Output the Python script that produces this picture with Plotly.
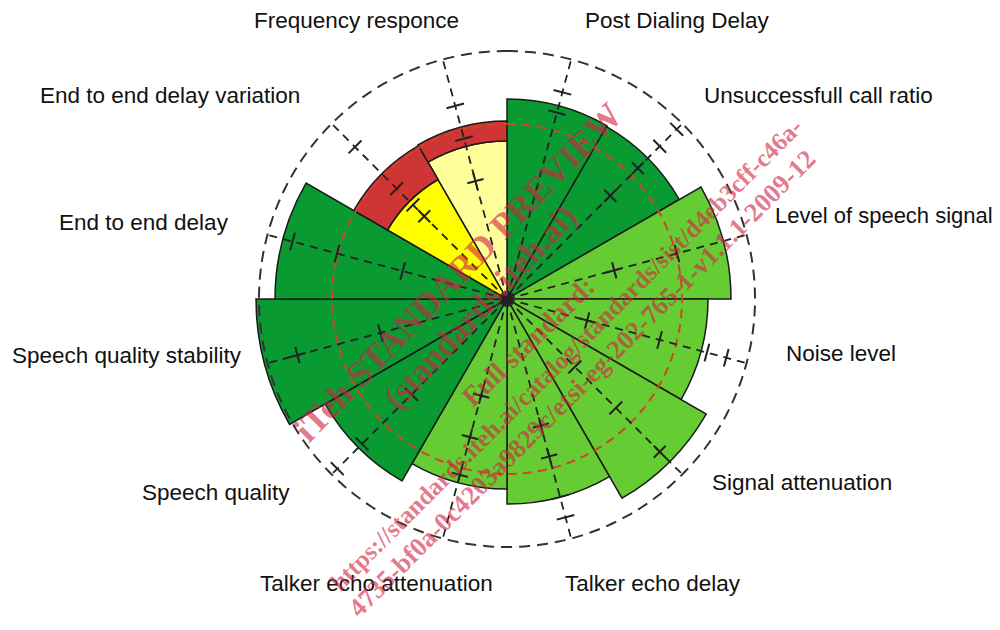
import numpy as np
import plotly.graph_objects as go

# ---------------- data ----------------
categories = ["Post Dialing Delay", "Unsuccessfull call ratio", "Level of speech signal",
              "Noise level", "Signal attenuation", "Talker echo delay",
              "Talker echo attenuation", "Speech quality", "Speech quality stability",
              "End to end delay", "End to end delay variation", "Frequency responce"]
theta_deg = [15, 45, 75, 105, 135, 165, 195, 225, 255, 285, 315, 345]
inner_r = [200, 199, 224, 201, 230, 205, 190, 210, 251, 232, 138, 158]
inner_color = ["#0A9A32", "#0A9A32", "#66CC33", "#66CC33", "#66CC33", "#66CC33",
               "#66CC33", "#0A9A32", "#0A9A32", "#0A9A32", "#FFFF00", "#FFFF99"]
outer_theta = [315, 345]
outer_r = [39, 20]
axis_end = [248] * 12
cross_r = [[], [146, 185], [111], [83], [216], [131, 163], [100, 143, 182],
           [], [217], [], [117], [122]]
bar_r = [[193, 214], [216, 240], [176], [158, 207, 227], [96, 154], [205, 226],
         [], [135, 205, 240], [131], [108, 176, 222], [133, 156, 215], [166, 200]]
outer_circle_r = 248
limit_circle_r = 175

label_pos = [(583, 20), (702, 95), (773, 215), (784, 353), (710, 482), (563, 583),
             (258, 583), (140, 492), (10, 355), (57, 222), (38, 95), (252, 20)]
label_size = [22.5, 22.5, 22, 22.5, 22.5, 22.5, 22.5, 22.5, 22.5, 22.5, 22.5, 22.5]

watermark = ["iTeh STANDARD PREVIEW", "(standards.iteh.ai)", "Full standard:",
             "https://standards.iteh.ai/catalog/standards/sist/d4eb3cff-c46a-",
             "4735-bf0a-0c4203a9829c/etsi-eg-202-765-1-v1.1.1-2009-12"]
wm_pos = [(458, 272, 36, -46), (480, 307, 34, -47), (528, 341, 28, -44),
          (566, 354, 25, -45), (582, 383, 26.5, -45)]

# page is offset by the browser's default 8px body margin
OFF = 8
W, H = 1000 - OFF, 630 - OFF
CX, CY, RMAX = 507, 299, 255


def px(x, y):
    return (x - OFF) / W, 1 - (y - OFF) / H


fig = go.Figure()

ring = np.linspace(0, 360, 361)
fig.add_trace(go.Scatterpolar(r=[outer_circle_r] * len(ring), theta=ring, mode="lines",
                              line=dict(color="#333333", width=2, dash="11px,7px"),
                              hoverinfo="skip"))

fig.add_trace(go.Barpolar(r=inner_r, theta=theta_deg, width=[30] * 12,
                          marker=dict(color=inner_color, line=dict(color="#1a1a1a", width=1.5)),
                          hovertext=categories))
fig.add_trace(go.Barpolar(r=outer_r, theta=outer_theta, width=[30] * 2,
                          marker=dict(color="#D03535", line=dict(color="#1a1a1a", width=1.5))))

fig.add_trace(go.Scatterpolar(r=[limit_circle_r] * len(ring), theta=ring, mode="lines",
                              line=dict(color="#D0452A", width=2, dash="9px,6px"),
                              hoverinfo="skip"))

for i, t in enumerate(theta_deg):
    fig.add_trace(go.Scatterpolar(r=[0, axis_end[i]], theta=[t, t], mode="lines",
                                  line=dict(color="#222222", width=1.8, dash="8px,6px"),
                                  hoverinfo="skip"))
    if bar_r[i]:
        fig.add_trace(go.Scatterpolar(r=bar_r[i], theta=[t] * len(bar_r[i]), mode="markers",
                                      marker=dict(symbol="line-ew", size=13, angle=t,
                                                  line=dict(color="#222222", width=2)),
                                      hoverinfo="skip"))
    if cross_r[i]:
        fig.add_trace(go.Scatterpolar(r=cross_r[i], theta=[t] * len(cross_r[i]), mode="markers",
                                      marker=dict(symbol="cross-thin", size=12, angle=t,
                                                  line=dict(color="#222222", width=2)),
                                      hoverinfo="skip"))

x0, y0 = px(CX - RMAX, CY + RMAX)
x1, y1 = px(CX + RMAX, CY - RMAX)

annotations = []
for name, (lx, ly), sz in zip(categories, label_pos, label_size):
    ax, ay = px(lx, ly)
    annotations.append(dict(x=ax, y=ay, xref="paper", yref="paper", text=name,
                            showarrow=False, xanchor="left", yanchor="middle",
                            font=dict(family="Liberation Sans, Arial", size=sz, color="#111111")))

wm_color = "rgba(210,32,66,0.62)"
for txt, (wx, wy, sz, ang) in zip(watermark, wm_pos):
    ax, ay = px(wx, wy)
    annotations.append(dict(x=ax, y=ay, xref="paper", yref="paper", text="<b>%s</b>" % txt,
                            showarrow=False, xanchor="center", yanchor="middle", textangle=ang,
                            font=dict(family="Liberation Serif, Times New Roman", size=sz,
                                      color=wm_color)))

fig.update_layout(
    width=W, height=H, margin=dict(l=0, r=0, t=0, b=0),
    paper_bgcolor="white", plot_bgcolor="white", showlegend=False,
    polar=dict(domain=dict(x=[x0, x1], y=[y0, y1]), bgcolor="rgba(0,0,0,0)",
               barmode="stack", bargap=0,
               radialaxis=dict(range=[0, RMAX], visible=False, showgrid=False),
               angularaxis=dict(rotation=90, direction="clockwise", visible=False,
                                showgrid=False)),
    annotations=annotations,
)

fig.write_html("out.html")
